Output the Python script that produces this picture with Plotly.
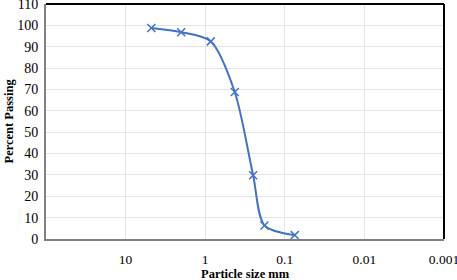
import plotly.graph_objects as go

sizes_mm = [4.75, 2.0, 0.85, 0.425, 0.25, 0.18, 0.075]
percent_passing = [98.8, 96.8, 92.5, 68.8, 29.8, 6.3, 1.8]
x_ticks = [10, 1, 0.1, 0.01, 0.001]
x_tick_labels = ["10", "1", "0.1", "0.01", "0.001"]
y_ticks = list(range(0, 111, 10))

fig = go.Figure()
fig.add_trace(go.Scatter(
    x=sizes_mm, y=percent_passing, mode="lines+markers",
    line=dict(color="#4472C4", width=2, shape="spline", smoothing=0.8),
    marker=dict(symbol="x-thin", size=8, line=dict(color="#4472C4", width=1.5)),
    showlegend=False,
))

L, R, T, B = 46, 13, 4, 41
W, H = 457, 280
pw, ph = W - L - R, H - T - B

font = dict(family="Liberation Serif", size=14, color="#000000")
fig.update_layout(
    width=W, height=H,
    margin=dict(l=L, r=R, t=T, b=B),
    paper_bgcolor="white", plot_bgcolor="white",
    font=font,
    xaxis=dict(
        type="log", range=[2, -3], tickvals=x_ticks, ticktext=x_tick_labels,
        showgrid=True, gridcolor="#e3e3ea", gridwidth=1,
        showline=True, linecolor="#808080", linewidth=2,
        ticks="", zeroline=False, automargin=False,
        ticklabeloverflow="allow", ticklabelstandoff=7,
        tickfont=dict(family="Liberation Serif", size=13.5),
    ),
    yaxis=dict(
        range=[0, 110], tickvals=y_ticks,
        showgrid=True, gridcolor="#e3e3ea", gridwidth=1,
        showline=True, linecolor="#808080", linewidth=2,
        ticks="", zeroline=False, automargin=False,
        ticklabeloverflow="allow", ticklabelstandoff=3,
    ),
    annotations=[
        dict(text="<b>Particle size mm</b>", xref="paper", yref="paper",
             x=0.5, y=-(274 - (T + ph)) / ph, xanchor="center", yanchor="middle",
             showarrow=False, font=dict(family="Liberation Serif", size=12.5)),
        dict(text="<b>Percent Passing</b>", xref="paper", yref="paper",
             x=-(L - 8) / pw, y=0.5, xanchor="center", yanchor="middle", textangle=-90,
             showarrow=False, font=dict(family="Liberation Serif", size=12.5)),
    ],
)
fig.add_shape(type="line", xref="paper", yref="paper", x0=0, x1=1, y0=1, y1=1,
              line=dict(color="#000000", width=2))
fig.add_shape(type="line", xref="paper", yref="paper", x0=1, x1=1, y0=0, y1=1,
              line=dict(color="#000000", width=2))
fig.write_html("out.html", config={"displayModeBar": False},
               post_script="document.body.style.margin='0';document.body.style.overflow='hidden';")
